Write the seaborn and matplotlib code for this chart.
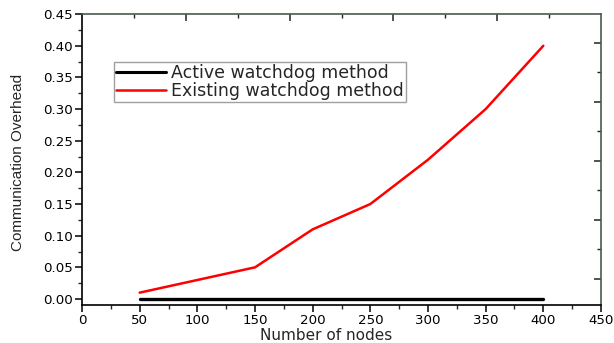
import numpy as np
import pandas as pd
import matplotlib
matplotlib.use("Agg")
import matplotlib.pyplot as plt
from matplotlib.ticker import MultipleLocator, FixedLocator, NullFormatter
import seaborn as sns

# Data
nodes = [50, 100, 150, 200, 250, 300, 350, 400]
active_overhead = [0.0, 0.0, 0.0, 0.0, 0.0, 0.0, 0.0, 0.0]
existing_overhead = [0.01, 0.03, 0.05, 0.11, 0.15, 0.22, 0.30, 0.40]
series_names = ["Active watchdog method", "Existing watchdog method"]
series_colors = ["#000000", "#ff0000"]

df = pd.DataFrame({
    "nodes": nodes * 2,
    "overhead": active_overhead + existing_overhead,
    "method": [series_names[0]] * len(nodes) + [series_names[1]] * len(nodes),
})

sns.set_style("ticks")
plt.rcParams["font.family"] = ["DejaVu Sans"]

fig = plt.figure(figsize=(6.14, 3.43), dpi=100)
ax = fig.add_axes([0.1336, 0.1108, 0.8452, 0.848])

sns.lineplot(data=df, x="nodes", y="overhead", hue="method",
             palette=dict(zip(series_names, series_colors)),
             linewidth=1.8, ax=ax, legend=True)
for line, lw in zip(ax.get_lines(), [2.4, 1.8]):
    line.set_linewidth(lw)

ax.set_xlim(0, 450)
ax.set_ylim(-0.0095, 0.45)
ax.xaxis.set_major_locator(MultipleLocator(50))
ax.xaxis.set_minor_locator(MultipleLocator(25))
ax.yaxis.set_major_locator(MultipleLocator(0.05))
ax.yaxis.set_minor_locator(MultipleLocator(0.025))
ax.yaxis.set_major_formatter(matplotlib.ticker.FormatStrFormatter("%.2f"))

ax.tick_params(axis="both", which="major", direction="out", length=5, width=1.1,
               labelsize=9.6, colors="black", pad=1.5)
ax.tick_params(axis="both", which="minor", direction="out", length=3, width=1.0)

for side in ["left", "bottom"]:
    ax.spines[side].set_color("black")
    ax.spines[side].set_linewidth(1.2)
for side in ["top", "right"]:
    ax.spines[side].set_visible(True)
    ax.spines[side].set_color("#4d5a4d")
    ax.spines[side].set_linewidth(1.2)

# Mirror ticks along the top and right frame
top = ax.secondary_xaxis("top")
top.xaxis.set_major_locator(FixedLocator([90, 180, 270, 360]))
top.xaxis.set_minor_locator(FixedLocator([45, 135, 225, 315, 405]))
top.xaxis.set_major_formatter(NullFormatter())
top.tick_params(which="major", direction="in", length=5, width=1.1, colors="#222222")
top.tick_params(which="minor", direction="in", length=3, width=1.0, colors="#222222")
top.spines["top"].set_visible(False)

right = ax.secondary_yaxis("right")
right.yaxis.set_major_locator(FixedLocator([0.404, 0.311, 0.218, 0.125, 0.032]))
right.yaxis.set_minor_locator(FixedLocator([0.358, 0.265, 0.172, 0.079]))
right.yaxis.set_major_formatter(NullFormatter())
right.tick_params(which="major", direction="in", length=5, width=1.1, colors="#222222")
right.tick_params(which="minor", direction="in", length=3, width=1.0, colors="#222222")
right.spines["right"].set_visible(False)

ax.set_xlabel("Number of nodes", fontsize=11)
ax.xaxis.set_label_coords(0.47, -0.122)
ax.xaxis.label.set_verticalalignment("baseline")
ax.set_ylabel("Communication Overhead", fontsize=11,
              family=["Liberation Sans", "DejaVu Sans"])
ax.yaxis.set_label_coords(-0.11, 0.49)

leg = ax.legend(loc="upper left", bbox_to_anchor=(0.0617, 0.835),
                borderaxespad=0, fontsize=12.5, frameon=True, fancybox=False,
                handlelength=2.9, handletextpad=0.3, labelspacing=0.0,
                borderpad=0.1, title=None)
leg.get_frame().set_edgecolor("#888888")
leg.get_frame().set_linewidth(1.0)
for h, lw in zip(leg.get_lines(), [2.2, 1.8]):
    h.set_linewidth(lw)

fig.savefig("out.png", dpi=100)
